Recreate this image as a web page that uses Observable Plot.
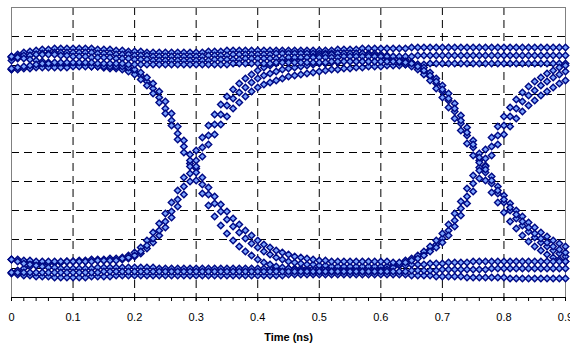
<!DOCTYPE html>
<html><head><meta charset="utf-8">
<script src="https://cdn.jsdelivr.net/npm/d3@7"></script>
<script src="https://cdn.jsdelivr.net/npm/@observablehq/plot@0.6"></script>
<style>body{margin:0;background:#fff;}</style>
</head><body><div id="chart"></div>
<script>
// time samples (ns)
const times = [0,0.01,0.02,0.03,0.04,0.05,0.06,0.07,0.08,0.09,
0.1,0.11,0.12,0.13,0.14,0.15,0.16,0.17,0.18,0.19,
0.2,0.21,0.22,0.23,0.24,0.25,0.26,0.27,0.28,0.29,
0.3,0.31,0.32,0.33,0.34,0.35,0.36,0.37,0.38,0.39,
0.4,0.41,0.42,0.43,0.44,0.45,0.46,0.47,0.48,0.49,
0.5,0.51,0.52,0.53,0.54,0.55,0.56,0.57,0.58,0.59,
0.6,0.61,0.62,0.63,0.64,0.65,0.66,0.67,0.68,0.69,
0.7,0.71,0.72,0.73,0.74,0.75,0.76,0.77,0.78,0.79,
0.8,0.81,0.82,0.83,0.84,0.85,0.86,0.87,0.88,0.89,
0.9];
const xTicks = [0,0.1,0.2,0.3,0.4,0.5,0.6,0.7,0.8,0.9];
const xMinorTicks = [0,0.02,0.04,0.06,0.08,0.1,0.12,0.14,0.16,0.18,0.2,0.22,0.24,0.26,0.28,0.3,0.32,0.34,0.36,0.38,0.4,0.42,0.44,0.46,0.48,0.5,0.52,0.54,0.56,0.58,0.6,0.62,0.64,0.66,0.68,0.7,0.72,0.74,0.76,0.78,0.8,0.82,0.84,0.86,0.88,0.9];
const xGrid = [0.1,0.2,0.3,0.4,0.5,0.6,0.7,0.8];
const yGrid = [29,58,87,116,145,174,203,232,261];

// signal traces (arbitrary units, 0..290)
const trace1 = [241,243,245,246,247,248,248,249,249,249,
249,249,249,249,248,248,248,247,247,246,
246,246,245,245,245,245,245,245,245,245,
245,245,246,246,246,247,247,247,247,247,
247,247,247,247,247,247,247,247,247,247,
247,247,247,248,248,248,248,249,249,249,
249,249,249,249,249,250,250,250,250,250,
250,250,250,250,250,250,250,250,250,250,
250,250,250,250,250,250,250,250,250,250,
250];
const trace2 = [237,239,241,242,243,244,244,245,245,245,
245,245,245,245,244,244,244,243,243,243,
242,242,242,241,241,241,241,241,241,241,
241,241,242,242,242,242,243,243,243,243,
243,243,243,244,244,244,244,244,244,244,
244,244,244,244,244,244,244,244,244,244,
243,242,241,240,238,235,231,226,221,214,
206,197,186,174,162,150,137,125,114,104,
95,87,79,72,66,60,55,51,47,44,
41];
const trace3 = [38,37,36,36,35,35,35,35,35,36,
36,36,36,37,37,37,37,38,38,39,
41,44,49,55,62,70,80,91,103,116,
129,141,153,163,173,181,189,195,201,206,
210,213,215,217,219,221,222,223,224,225,
226,227,228,228,229,229,230,230,231,231,
231,232,232,232,233,233,233,233,234,234,
234,234,234,234,234,234,234,234,234,234,
234,234,234,234,234,234,234,234,234,234,
234];
const trace4 = [25,27,29,31,32,33,34,35,35,36,
36,37,37,38,38,38,39,39,40,42,
45,50,57,65,74,84,95,107,120,134,
147,160,172,183,193,201,208,214,219,223,
227,230,232,234,236,237,238,239,240,241,
242,243,243,244,244,244,244,244,243,242,
241,239,237,235,233,231,228,223,217,209,
200,190,179,167,154,142,130,117,105,95,
85,76,69,62,56,51,47,43,40,38,
36];
const trace5 = [240,241,242,242,243,243,243,243,242,242,
241,241,241,240,240,240,240,239,239,239,
238,238,238,237,237,237,237,237,237,237,
237,237,237,238,238,238,238,238,239,239,
239,239,239,239,239,240,240,240,240,240,
240,240,240,240,241,241,241,241,241,241,
241,241,241,241,241,241,242,242,242,242,
242,242,242,242,242,242,242,242,242,242,
242,242,242,242,242,242,242,242,242,242,
242];
const trace6 = [38,38,37,37,36,36,36,36,36,36,
36,36,36,36,37,37,37,37,39,40,
42,46,52,59,67,76,86,98,111,124,
137,150,162,173,183,192,199,205,210,215,
219,222,224,226,228,229,230,231,232,233,
234,234,235,235,236,236,236,236,236,236,
236,236,236,236,236,235,233,230,225,219,
212,204,194,182,170,157,144,132,121,111,
102,94,87,81,75,70,65,61,57,54,
51];
const trace7 = [24,23,22,22,21,21,21,20,20,20,
20,20,20,21,21,21,21,22,22,22,
22,22,22,22,22,22,22,22,22,22,
22,22,22,22,22,22,22,22,22,22,
22,22,22,22,22,23,23,23,23,23,
23,23,23,23,23,23,23,23,23,23,
23,23,23,23,23,22,22,22,22,21,
21,21,21,21,20,20,20,20,20,20,
20,19,19,19,19,19,19,19,19,19,
19];
const trace8 = [38,36,34,33,32,31,30,30,29,29,
29,29,29,29,30,30,30,30,30,30,
30,30,30,30,29,29,29,29,29,29,
29,29,29,29,29,29,29,29,29,29,
29,29,29,29,29,29,29,29,29,29,
29,29,29,29,29,29,29,29,29,29,
30,31,32,34,36,38,41,44,48,53,
59,67,77,89,101,114,127,139,151,162,
172,181,189,196,202,207,212,216,220,223,
226];
const trace9 = [241,240,239,238,237,236,235,234,234,233,
233,232,232,231,231,230,230,230,229,228,
226,222,216,209,200,189,177,164,151,137,
125,113,103,94,86,78,71,65,59,54,
50,46,43,40,38,36,35,34,33,33,
32,32,31,31,31,31,31,31,31,31,
31,31,32,32,32,33,33,33,34,34,
34,35,35,35,35,36,36,36,36,36,
36,36,36,36,36,36,36,36,36,36,
36];
const trace10 = [228,229,230,231,232,232,233,233,233,233,
233,232,232,231,231,230,229,229,228,226,
223,218,212,204,195,184,172,158,145,131,
117,104,92,81,72,64,57,51,46,42,
38,35,33,31,30,29,28,27,27,26,
26,26,26,26,26,26,26,26,26,26,
27,28,30,33,37,39,42,46,51,57,
64,73,84,96,109,122,135,148,160,171,
181,190,198,205,211,216,220,224,227,230,
232];
const trace11 = [25,25,25,25,25,25,25,25,25,25,
25,25,25,25,25,26,26,26,26,26,
26,26,26,26,26,26,26,26,26,26,
26,26,26,26,26,26,26,26,26,26,
26,26,26,26,26,26,26,26,26,26,
26,26,26,26,26,26,26,26,26,26,
26,26,26,26,26,27,27,27,27,27,
28,28,28,28,28,28,28,28,29,29,
29,29,29,29,29,29,29,29,29,29,
29];
const trace12 = [228,228,229,229,230,230,230,230,230,230,
231,231,231,231,231,231,231,231,231,230,
228,225,220,214,206,196,184,171,157,143,
131,120,110,101,93,86,79,73,67,62,
57,53,50,47,45,43,41,40,39,38,
37,37,36,36,36,36,36,36,36,36,
36,36,35,35,35,37,39,42,46,50,
55,62,71,82,94,106,119,131,142,153,
163,171,179,186,192,197,202,206,210,214,
217];
const trace13 = [229,230,231,232,233,234,234,235,235,235,
235,235,235,235,234,234,234,234,234,233,
233,233,233,233,233,233,233,233,233,233,
233,233,233,233,233,233,234,234,234,234,
234,234,234,235,235,235,235,235,235,235,
235,235,236,236,236,236,236,236,236,236,
236,236,236,236,235,234,231,227,222,216,
208,199,189,177,165,153,140,128,117,107,
98,90,83,76,70,64,59,55,51,48,
45];

const traces = [trace1,trace2,trace3,trace4,trace5,trace6,trace7,trace8,trace9,trace10,trace11,trace12,trace13];
const points = traces.flatMap((vals, k) => vals.map((v, i) => ({t: times[i], v, k})));

const chart = Plot.plot({
  width: 570,
  height: 350,
  marginLeft: 11,
  marginRight: 5,
  marginTop: 7,
  marginBottom: 53,
  style: {fontFamily: "Arial, 'Liberation Sans', sans-serif", fontSize: "11px", color: "#000", background: "#fff"},
  x: {domain: [0, 0.9]},
  y: {domain: [0, 290], axis: null},
  marks: [
    Plot.ruleX(xGrid, {stroke: "#000", strokeDasharray: "8,5", strokeWidth: 1}),
    Plot.ruleY(yGrid, {stroke: "#000", strokeDasharray: "8,5", strokeWidth: 1}),
    Plot.frame({stroke: "#808080"}),
    Plot.ruleY([0], {stroke: "#000"}),
    Plot.dot(points, {x: "t", y: "v", symbol: "diamond2", r: 2.9, fill: "#7ea6ff", stroke: "#000a85", strokeWidth: 1.5}),
    Plot.axisX(xMinorTicks, {anchor: "bottom", tickSize: 4, tickFormat: () => "", label: null}),
    Plot.axisX(xTicks, {anchor: "bottom", tickSize: 4, tickPadding: 12, fontSize: 11, label: null, tickFormat: d => String(d)}),
    Plot.text(["Time (ns)"], {frameAnchor: "bottom", dy: 43, fontWeight: "bold", fontSize: 11, fill: "#000"})
  ]
});
document.getElementById("chart").appendChild(chart);
</script>
</body></html>
